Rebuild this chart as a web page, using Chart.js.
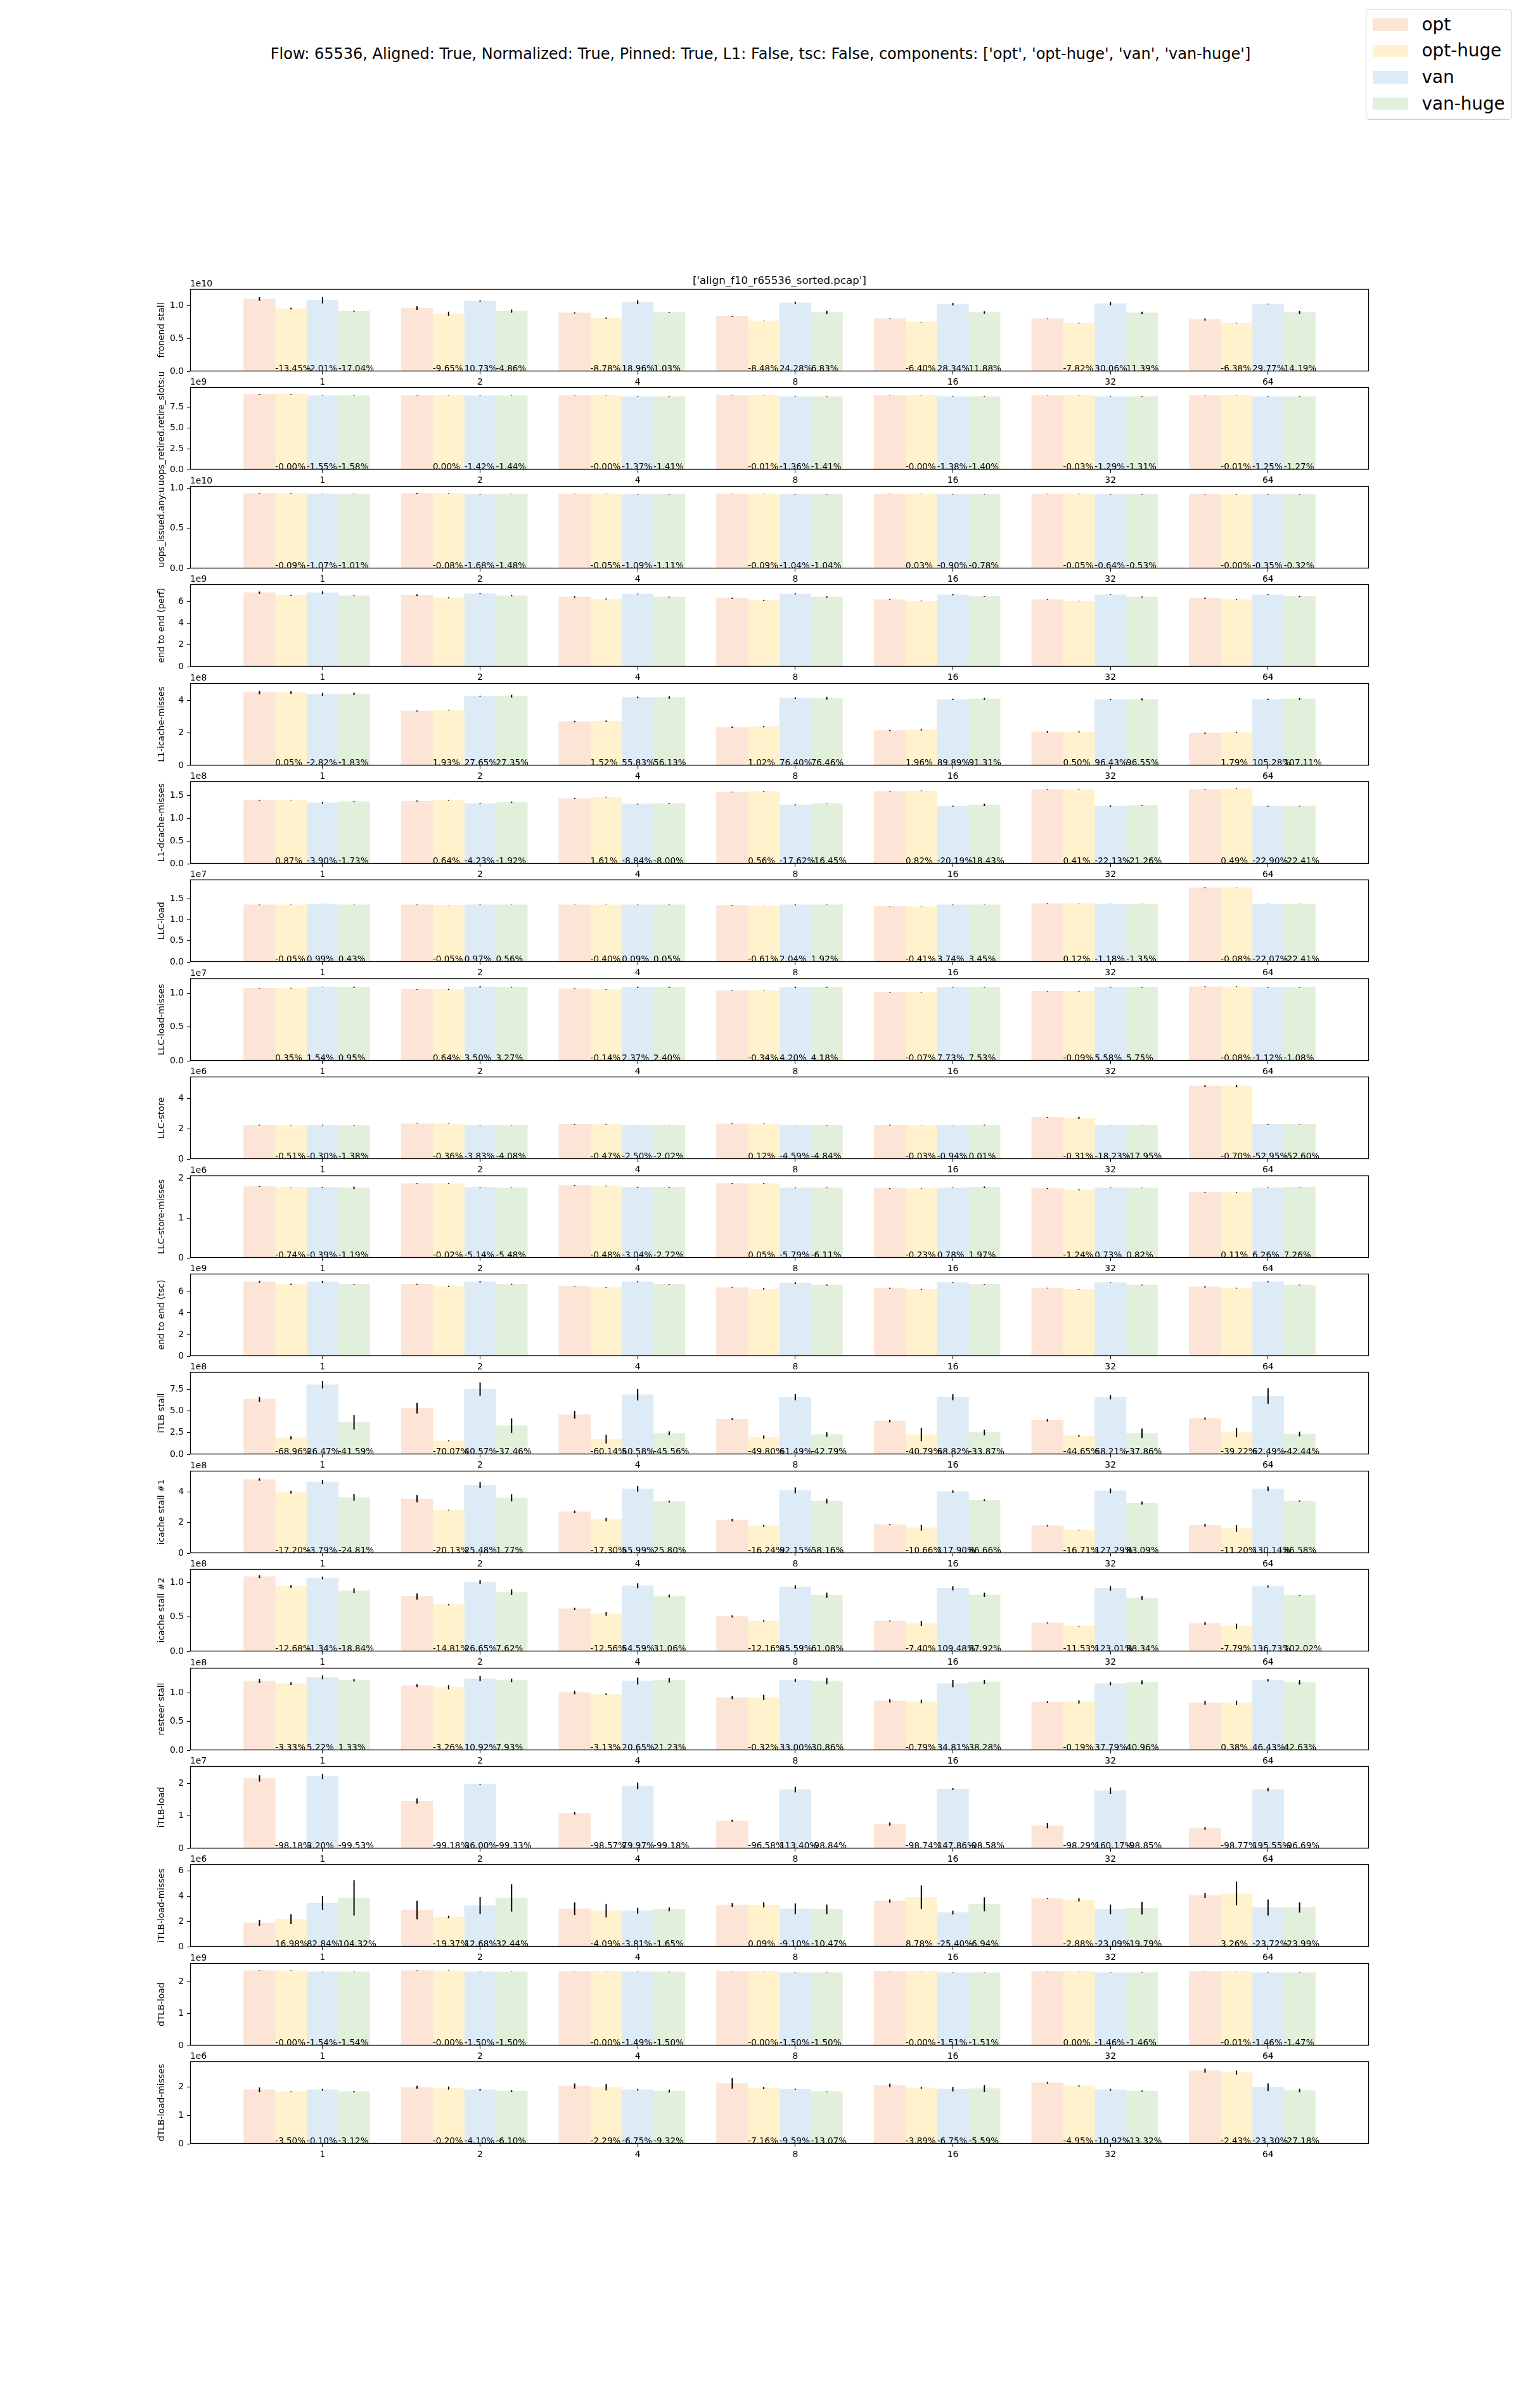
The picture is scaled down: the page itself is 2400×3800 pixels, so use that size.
<!DOCTYPE html>
<html>
<head>
<meta charset="utf-8">
<script src="https://cdn.jsdelivr.net/npm/chart.js@4.4.1/dist/chart.umd.min.js"></script>
<style>
  body { margin: 0; background: #fff; }
  #page { position: relative; width: 2400px; height: 3800px; font-family: "DejaVu Sans", sans-serif; color: #000; }
  #page canvas { position: absolute; left: 0; }
  #suptitle { position: absolute; left: 0; top: 73px; width: 2400px; text-align: center; font-size: 24px; line-height: 1; white-space: nowrap; }
  #legend { position: absolute; left: 2155px; top: 14px; width: 230px; height: 175px; border: 1px solid #cccccc; border-radius: 5px; background: rgba(255,255,255,0.8); padding-top: 3px; box-sizing: border-box; }
  .entry { height: 41.6px; display: flex; align-items: center; font-size: 27.8px; line-height: 1; }
  .swatch { width: 55.6px; height: 19.5px; margin-left: 10px; margin-right: 22px; }
</style>
</head>
<body>
<div id="page">
  <div id="suptitle">Flow: 65536, Aligned: True, Normalized: True, Pinned: True, L1: False, tsc: False, components: ['opt', 'opt-huge', 'van', 'van-huge']</div>
  <div id="legend"></div>
</div>
<script>
const groups = ['1', '2', '4', '8', '16', '32', '64'];
const seriesNames = ['opt', 'opt-huge', 'van', 'van-huge'];
const colors = ['#fce4d6', '#fff2cc', '#ddebf7', '#e2efda'];
const plotTitle = "['align_f10_r65536_sorted.pcap']";

const metricNames = ['fronend stall', 'uops_retired.retire_slots:u', 'uops_issued.any:u', 'end to end (perf)',
  'L1-icache-misses', 'L1-dcache-misses', 'LLC-load', 'LLC-load-misses', 'LLC-store', 'LLC-store-misses',
  'end to end (tsc)', 'iTLB stall', 'icache stall #1', 'icache stall #2', 'resteer stall', 'iTLB-load',
  'iTLB-load-misses', 'dTLB-load', 'dTLB-load-misses'];
const exponents = ['1e10', '1e9', '1e10', '1e9', '1e8', '1e8', '1e7', '1e7', '1e6', '1e6',
  '1e9', '1e8', '1e8', '1e8', '1e8', '1e7', '1e6', '1e9', '1e6'];
const yTickLabels = [
  ['0.0', '0.5', '1.0'], ['0.0', '2.5', '5.0', '7.5'], ['0.0', '0.5', '1.0'], ['0', '2', '4', '6'],
  ['0', '2', '4'], ['0.0', '0.5', '1.0', '1.5'], ['0.0', '0.5', '1.0', '1.5'], ['0.0', '0.5', '1.0'],
  ['0', '2', '4'], ['0', '1', '2'], ['0', '2', '4', '6'], ['0.0', '2.5', '5.0', '7.5'],
  ['0', '2', '4'], ['0.0', '0.5', '1.0'], ['0.0', '0.5', '1.0'], ['0', '1', '2'],
  ['0', '2', '4', '6'], ['0', '1', '2'], ['0', '1', '2']];
const yMax = [1.255, 9.855, 1.026, 7.58, 5.05, 1.816, 1.961, 1.22, 5.44, 2.07,
  7.64, 9.48, 5.38, 1.20, 1.44, 2.54, 6.50, 2.585, 2.91];
const xLimits = [-0.84, 6.64];

// bar heights, in units of the panel's exponent
const optValues = [
  [1.103, 0.964, 0.889, 0.837, 0.802, 0.802, 0.790],
  [8.99, 8.89, 8.89, 8.89, 8.89, 8.89, 8.89],
  [0.935, 0.935, 0.928, 0.928, 0.928, 0.928, 0.922],
  [6.81, 6.57, 6.41, 6.29, 6.17, 6.17, 6.29],
  [4.47, 3.34, 2.69, 2.34, 2.14, 2.06, 1.98],
  [1.399, 1.382, 1.438, 1.579, 1.596, 1.636, 1.636],
  [1.360, 1.360, 1.360, 1.348, 1.318, 1.390, 1.767],
  [1.076, 1.057, 1.068, 1.038, 1.011, 1.030, 1.098],
  [2.24, 2.33, 2.29, 2.33, 2.24, 2.745, 4.82],
  [1.792, 1.867, 1.823, 1.867, 1.741, 1.741, 1.647],
  [6.89, 6.66, 6.47, 6.35, 6.30, 6.30, 6.42],
  [6.33, 5.31, 4.55, 4.06, 3.82, 3.91, 4.11],
  [4.81, 3.56, 2.70, 2.16, 1.87, 1.79, 1.82],
  [1.088, 0.799, 0.619, 0.509, 0.443, 0.414, 0.407],
  [1.209, 1.130, 1.009, 0.922, 0.865, 0.843, 0.830],
  [2.16, 1.46, 1.085, 0.854, 0.754, 0.700, 0.615],
  [1.88, 2.89, 2.99, 3.29, 3.60, 3.80, 4.05],
  [2.352, 2.352, 2.332, 2.332, 2.332, 2.332, 2.332],
  [1.906, 1.996, 2.041, 2.132, 2.064, 2.154, 2.583]
];
const optHugeValues = [
  [0.956, 0.877, 0.810, 0.770, 0.750, 0.734, 0.734],
  [8.99, 8.89, 8.89, 8.89, 8.89, 8.89, 8.89],
  [0.935, 0.935, 0.928, 0.928, 0.928, 0.928, 0.922],
  [6.57, 6.33, 6.22, 6.10, 6.05, 6.05, 6.17],
  [4.47, 3.39, 2.72, 2.375, 2.19, 2.06, 2.03],
  [1.399, 1.399, 1.466, 1.596, 1.607, 1.636, 1.652],
  [1.360, 1.348, 1.360, 1.330, 1.318, 1.390, 1.767],
  [1.076, 1.057, 1.057, 1.038, 1.011, 1.030, 1.098],
  [2.24, 2.33, 2.29, 2.33, 2.24, 2.71, 4.82],
  [1.773, 1.867, 1.804, 1.867, 1.741, 1.710, 1.647],
  [6.66, 6.47, 6.35, 6.23, 6.19, 6.19, 6.30],
  [1.90, 1.55, 1.75, 1.98, 2.28, 2.13, 2.51],
  [3.98, 2.81, 2.20, 1.79, 1.66, 1.50, 1.61],
  [0.945, 0.681, 0.546, 0.443, 0.407, 0.366, 0.366],
  [1.165, 1.100, 0.978, 0.922, 0.852, 0.843, 0.830],
  [0.04, 0.012, 0.015, 0.03, 0.0095, 0.012, 0.0076],
  [2.18, 2.34, 2.84, 3.29, 3.90, 3.70, 4.20],
  [2.352, 2.352, 2.332, 2.332, 2.332, 2.332, 2.332],
  [1.838, 1.966, 1.996, 1.966, 1.974, 2.041, 2.515]
];
const vanValues = [
  [1.083, 1.071, 1.052, 1.044, 1.024, 1.032, 1.024],
  [8.83, 8.83, 8.74, 8.74, 8.74, 8.74, 8.74],
  [0.928, 0.922, 0.922, 0.922, 0.922, 0.922, 0.922],
  [6.81, 6.72, 6.69, 6.69, 6.62, 6.62, 6.62],
  [4.36, 4.25, 4.17, 4.125, 4.05, 4.05, 4.05],
  [1.342, 1.325, 1.314, 1.297, 1.269, 1.269, 1.269],
  [1.378, 1.360, 1.360, 1.360, 1.360, 1.378, 1.378],
  [1.095, 1.095, 1.087, 1.087, 1.087, 1.087, 1.087],
  [2.24, 2.24, 2.24, 2.24, 2.24, 2.24, 2.29],
  [1.773, 1.773, 1.773, 1.760, 1.760, 1.760, 1.760],
  [6.89, 6.89, 6.89, 6.77, 6.82, 6.82, 6.89],
  [8.02, 7.50, 6.86, 6.57, 6.57, 6.57, 6.71],
  [4.65, 4.44, 4.20, 4.10, 4.02, 4.07, 4.20],
  [1.070, 1.011, 0.956, 0.938, 0.919, 0.919, 0.945],
  [1.274, 1.252, 1.209, 1.222, 1.165, 1.165, 1.222],
  [2.22, 1.98, 1.93, 1.815, 1.83, 1.78, 1.815],
  [3.45, 3.24, 2.84, 2.99, 2.69, 2.94, 3.09],
  [2.312, 2.312, 2.312, 2.292, 2.292, 2.292, 2.292],
  [1.906, 1.906, 1.906, 1.928, 1.928, 1.906, 1.996]
];
const vanHugeValues = [
  [0.917, 0.917, 0.897, 0.897, 0.897, 0.889, 0.897],
  [8.83, 8.83, 8.74, 8.74, 8.74, 8.74, 8.74],
  [0.928, 0.928, 0.922, 0.922, 0.922, 0.922, 0.922],
  [6.53, 6.53, 6.41, 6.41, 6.45, 6.41, 6.45],
  [4.39, 4.25, 4.17, 4.125, 4.09, 4.05, 4.09],
  [1.370, 1.354, 1.325, 1.325, 1.297, 1.286, 1.269],
  [1.360, 1.360, 1.360, 1.360, 1.360, 1.378, 1.378],
  [1.087, 1.087, 1.087, 1.087, 1.087, 1.087, 1.087],
  [2.21, 2.24, 2.24, 2.24, 2.24, 2.24, 2.29],
  [1.760, 1.760, 1.773, 1.760, 1.773, 1.760, 1.773],
  [6.66, 6.66, 6.66, 6.59, 6.66, 6.59, 6.59],
  [3.68, 3.30, 2.42, 2.28, 2.51, 2.42, 2.33],
  [3.64, 3.61, 3.37, 3.40, 3.45, 3.27, 3.40],
  [0.883, 0.861, 0.806, 0.817, 0.824, 0.777, 0.817],
  [1.222, 1.222, 1.222, 1.209, 1.196, 1.187, 1.187],
  [0.01, 0.01, 0.009, 0.01, 0.011, 0.008, 0.02],
  [3.85, 3.85, 2.94, 2.94, 3.34, 3.04, 3.09],
  [2.312, 2.312, 2.312, 2.292, 2.292, 2.292, 2.292],
  [1.838, 1.861, 1.861, 1.838, 1.951, 1.861, 1.883]
];

// error bar half lengths
const optErr = [
  [0.028, 0.028, 0.008, 0.006, 0.004, 0.004, 0.016],
  [0.03, 0.03, 0.03, 0.03, 0.03, 0.03, 0.03],
  [0.003, 0.006, 0.003, 0.003, 0.003, 0.003, 0.003],
  [0.10, 0.08, 0.06, 0.05, 0.04, 0.04, 0.06],
  [0.10, 0.03, 0.04, 0.05, 0.04, 0.05, 0.04],
  [0.010, 0.010, 0.012, 0.005, 0.008, 0.008, 0.006],
  [0.005, 0.005, 0.003, 0.008, 0.003, 0.008, 0.008],
  [0.004, 0.004, 0.006, 0.004, 0.004, 0.004, 0.006],
  [0.03, 0.02, 0.02, 0.03, 0.03, 0.02, 0.06],
  [0.008, 0.008, 0.010, 0.010, 0.010, 0.010, 0.008],
  [0.08, 0.05, 0.03, 0.04, 0.05, 0.03, 0.06],
  [0.28, 0.61, 0.44, 0.10, 0.13, 0.15, 0.13],
  [0.08, 0.24, 0.08, 0.08, 0.03, 0.04, 0.09],
  [0.020, 0.046, 0.018, 0.015, 0.005, 0.008, 0.020],
  [0.035, 0.025, 0.028, 0.030, 0.030, 0.015, 0.035],
  [0.10, 0.08, 0.04, 0.03, 0.05, 0.08, 0.04],
  [0.23, 0.73, 0.50, 0.15, 0.13, 0.04, 0.20],
  [0.005, 0.005, 0.005, 0.005, 0.005, 0.005, 0.005],
  [0.08, 0.05, 0.09, 0.19, 0.06, 0.03, 0.07]
];
const optHugeErr = [
  [0.012, 0.032, 0.008, 0.004, 0.004, 0.004, 0.004],
  [0.03, 0.03, 0.03, 0.03, 0.03, 0.03, 0.03],
  [0.003, 0.003, 0.003, 0.003, 0.003, 0.003, 0.003],
  [0.04, 0.05, 0.05, 0.04, 0.03, 0.02, 0.04],
  [0.08, 0.02, 0.04, 0.03, 0.04, 0.03, 0.03],
  [0.005, 0.010, 0.006, 0.010, 0.006, 0.006, 0.006],
  [0.003, 0.003, 0.003, 0.003, 0.003, 0.003, 0.003],
  [0.005, 0.008, 0.004, 0.003, 0.003, 0.004, 0.006],
  [0.02, 0.02, 0.02, 0.02, 0.01, 0.07, 0.08],
  [0.005, 0.010, 0.010, 0.010, 0.006, 0.012, 0.008],
  [0.06, 0.06, 0.04, 0.06, 0.04, 0.03, 0.04],
  [0.19, 0.05, 0.51, 0.19, 0.77, 0.10, 0.55],
  [0.08, 0.02, 0.11, 0.06, 0.19, 0.02, 0.21],
  [0.020, 0.010, 0.026, 0.010, 0.037, 0.003, 0.037],
  [0.025, 0.037, 0.015, 0.046, 0.030, 0.028, 0.037],
  [0.005, 0.003, 0.003, 0.005, 0.003, 0.003, 0.003],
  [0.38, 0.10, 0.53, 0.20, 0.93, 0.13, 0.93],
  [0.005, 0.005, 0.005, 0.005, 0.005, 0.005, 0.005],
  [0.01, 0.055, 0.11, 0.04, 0.03, 0.02, 0.07]
];
const vanErr = [
  [0.048, 0.008, 0.028, 0.016, 0.018, 0.024, 0.004],
  [0.03, 0.03, 0.03, 0.03, 0.03, 0.03, 0.03],
  [0.003, 0.003, 0.003, 0.003, 0.003, 0.003, 0.003],
  [0.12, 0.04, 0.04, 0.05, 0.06, 0.03, 0.04],
  [0.10, 0.03, 0.05, 0.05, 0.04, 0.03, 0.04],
  [0.015, 0.010, 0.008, 0.010, 0.010, 0.015, 0.008],
  [0.005, 0.005, 0.005, 0.008, 0.005, 0.005, 0.005],
  [0.004, 0.010, 0.008, 0.008, 0.004, 0.004, 0.004],
  [0.03, 0.02, 0.01, 0.01, 0.01, 0.01, 0.02],
  [0.010, 0.008, 0.012, 0.010, 0.008, 0.008, 0.008],
  [0.10, 0.05, 0.04, 0.08, 0.04, 0.03, 0.04],
  [0.44, 0.77, 0.66, 0.35, 0.35, 0.25, 0.90],
  [0.13, 0.19, 0.18, 0.19, 0.08, 0.15, 0.15],
  [0.020, 0.030, 0.037, 0.026, 0.030, 0.033, 0.015],
  [0.035, 0.046, 0.060, 0.026, 0.065, 0.030, 0.020],
  [0.08, 0.015, 0.10, 0.085, 0.03, 0.10, 0.05],
  [0.55, 0.66, 0.23, 0.43, 0.15, 0.38, 0.63],
  [0.005, 0.005, 0.005, 0.005, 0.005, 0.005, 0.005],
  [0.03, 0.03, 0.02, 0.02, 0.08, 0.03, 0.14]
];
const vanHugeErr = [
  [0.008, 0.024, 0.006, 0.024, 0.018, 0.020, 0.022],
  [0.03, 0.03, 0.03, 0.03, 0.03, 0.03, 0.03],
  [0.003, 0.003, 0.003, 0.003, 0.003, 0.003, 0.003],
  [0.04, 0.06, 0.03, 0.06, 0.03, 0.04, 0.05],
  [0.08, 0.08, 0.08, 0.08, 0.06, 0.06, 0.06],
  [0.010, 0.015, 0.010, 0.005, 0.025, 0.010, 0.006],
  [0.003, 0.003, 0.005, 0.005, 0.003, 0.005, 0.005],
  [0.008, 0.005, 0.006, 0.006, 0.004, 0.004, 0.004],
  [0.02, 0.02, 0.01, 0.02, 0.03, 0.01, 0.01],
  [0.030, 0.008, 0.010, 0.010, 0.020, 0.006, 0.005],
  [0.04, 0.05, 0.04, 0.05, 0.04, 0.03, 0.03],
  [0.83, 0.83, 0.22, 0.26, 0.33, 0.54, 0.26],
  [0.22, 0.23, 0.06, 0.15, 0.06, 0.10, 0.04],
  [0.035, 0.040, 0.020, 0.037, 0.030, 0.026, 0.005],
  [0.020, 0.030, 0.040, 0.057, 0.035, 0.035, 0.040],
  [0.003, 0.003, 0.003, 0.003, 0.003, 0.003, 0.005],
  [1.39, 1.08, 0.15, 0.38, 0.55, 0.50, 0.40],
  [0.005, 0.005, 0.005, 0.005, 0.005, 0.005, 0.005],
  [0.02, 0.03, 0.05, 0.01, 0.12, 0.02, 0.06]
];

// percentage labels printed at the foot of the opt-huge, van and van-huge bars
const optHugePct = [
  ['-13.45%', '-9.65%', '-8.78%', '-8.48%', '-6.40%', '-7.82%', '-6.38%'],
  ['-0.00%', '0.00%', '-0.00%', '-0.01%', '-0.00%', '-0.03%', '-0.01%'],
  ['-0.09%', '-0.08%', '-0.05%', '-0.09%', '0.03%', '-0.05%', '-0.00%'],
  null,
  ['0.05%', '1.93%', '1.52%', '1.02%', '1.96%', '0.50%', '1.79%'],
  ['0.87%', '0.64%', '1.61%', '0.56%', '0.82%', '0.41%', '0.49%'],
  ['-0.05%', '-0.05%', '-0.40%', '-0.61%', '-0.41%', '0.12%', '-0.08%'],
  ['0.35%', '0.64%', '-0.14%', '-0.34%', '-0.07%', '-0.09%', '-0.08%'],
  ['-0.51%', '-0.36%', '-0.47%', '0.12%', '-0.03%', '-0.31%', '-0.70%'],
  ['-0.74%', '-0.02%', '-0.48%', '0.05%', '-0.23%', '-1.24%', '0.11%'],
  null,
  ['-68.96%', '-70.07%', '-60.14%', '-49.80%', '-40.79%', '-44.65%', '-39.22%'],
  ['-17.20%', '-20.13%', '-17.30%', '-16.24%', '-10.66%', '-16.71%', '-11.20%'],
  ['-12.68%', '-14.81%', '-12.56%', '-12.16%', '-7.40%', '-11.53%', '-7.79%'],
  ['-3.33%', '-3.26%', '-3.13%', '-0.32%', '-0.79%', '-0.19%', '0.38%'],
  ['-98.18%', '-99.18%', '-98.57%', '-96.58%', '-98.74%', '-98.29%', '-98.77%'],
  ['16.98%', '-19.37%', '-4.09%', '0.09%', '8.78%', '-2.88%', '3.26%'],
  ['-0.00%', '-0.00%', '-0.00%', '-0.00%', '-0.00%', '0.00%', '-0.01%'],
  ['-3.50%', '-0.20%', '-2.29%', '-7.16%', '-3.89%', '-4.95%', '-2.43%']
];
const vanPct = [
  ['-2.01%', '10.73%', '18.96%', '24.28%', '28.34%', '30.06%', '29.77%'],
  ['-1.55%', '-1.42%', '-1.37%', '-1.36%', '-1.38%', '-1.29%', '-1.25%'],
  ['-1.07%', '-1.68%', '-1.09%', '-1.04%', '-0.90%', '-0.64%', '-0.35%'],
  null,
  ['-2.82%', '27.65%', '55.83%', '76.40%', '89.89%', '96.43%', '105.28%'],
  ['-3.90%', '-4.23%', '-8.84%', '-17.62%', '-20.19%', '-22.13%', '-22.90%'],
  ['0.99%', '0.97%', '0.09%', '2.04%', '3.74%', '-1.18%', '-22.07%'],
  ['1.54%', '3.50%', '2.37%', '4.20%', '7.73%', '5.58%', '-1.12%'],
  ['-0.30%', '-3.83%', '-2.50%', '-4.59%', '-0.94%', '-18.23%', '-52.95%'],
  ['-0.39%', '-5.14%', '-3.04%', '-5.79%', '0.78%', '0.73%', '6.26%'],
  null,
  ['26.47%', '40.57%', '50.58%', '61.49%', '68.82%', '68.21%', '62.49%'],
  ['-3.79%', '25.48%', '55.99%', '92.15%', '117.90%', '127.29%', '130.14%'],
  ['-1.34%', '26.65%', '54.59%', '85.59%', '109.48%', '123.01%', '136.73%'],
  ['5.22%', '10.92%', '20.65%', '33.00%', '34.81%', '37.79%', '46.43%'],
  ['3.20%', '36.00%', '79.97%', '113.40%', '147.86%', '160.17%', '195.55%'],
  ['82.84%', '12.68%', '-3.81%', '-9.10%', '-25.40%', '-23.09%', '-23.72%'],
  ['-1.54%', '-1.50%', '-1.49%', '-1.50%', '-1.51%', '-1.46%', '-1.46%'],
  ['-0.10%', '-4.10%', '-6.75%', '-9.59%', '-6.75%', '-10.92%', '-23.30%']
];
const vanHugePct = [
  ['-17.04%', '-4.86%', '1.03%', '6.83%', '11.88%', '11.39%', '14.19%'],
  ['-1.58%', '-1.44%', '-1.41%', '-1.41%', '-1.40%', '-1.31%', '-1.27%'],
  ['-1.01%', '-1.48%', '-1.11%', '-1.04%', '-0.78%', '-0.53%', '-0.32%'],
  null,
  ['-1.83%', '27.35%', '56.13%', '76.46%', '91.31%', '96.55%', '107.11%'],
  ['-1.73%', '-1.92%', '-8.00%', '-16.45%', '-18.43%', '-21.26%', '-22.41%'],
  ['0.43%', '0.56%', '0.05%', '1.92%', '3.45%', '-1.35%', '-22.41%'],
  ['0.95%', '3.27%', '2.40%', '4.18%', '7.53%', '5.75%', '-1.08%'],
  ['-1.38%', '-4.08%', '-2.02%', '-4.84%', '0.01%', '-17.95%', '-52.60%'],
  ['-1.19%', '-5.48%', '-2.72%', '-6.11%', '1.97%', '0.82%', '7.26%'],
  null,
  ['-41.59%', '-37.46%', '-45.56%', '-42.79%', '-33.87%', '-37.86%', '-42.44%'],
  ['-24.81%', '1.77%', '25.80%', '58.16%', '86.66%', '83.09%', '86.58%'],
  ['-18.84%', '7.62%', '31.06%', '61.08%', '87.92%', '88.34%', '102.02%'],
  ['1.33%', '7.93%', '21.23%', '30.86%', '38.28%', '40.96%', '42.63%'],
  ['-99.53%', '-99.33%', '-99.18%', '-98.84%', '-98.58%', '-98.85%', '-96.69%'],
  ['104.32%', '32.44%', '-1.65%', '-10.47%', '-6.94%', '-19.79%', '-23.99%'],
  ['-1.54%', '-1.50%', '-1.50%', '-1.50%', '-1.51%', '-1.46%', '-1.47%'],
  ['-3.12%', '-6.10%', '-9.32%', '-13.07%', '-5.59%', '-13.32%', '-27.18%']
];

const seriesValues = [optValues, optHugeValues, vanValues, vanHugeValues];
const seriesErrors = [optErr, optHugeErr, vanErr, vanHugeErr];
const seriesPct = [null, optHugePct, vanPct, vanHugePct];

const FONT = '"DejaVu Sans", sans-serif';
const page = document.getElementById('page');

// legend
const legend = document.getElementById('legend');
seriesNames.forEach((name, s) => {
  const row = document.createElement('div');
  row.className = 'entry';
  const sw = document.createElement('div');
  sw.className = 'swatch';
  sw.style.background = colors[s];
  const txt = document.createElement('span');
  txt.textContent = name;
  row.appendChild(sw);
  row.appendChild(txt);
  legend.appendChild(row);
});

// error bars, percentage labels, box, offset text
const decor = {
  id: 'decor',
  afterDatasetsDraw(chart, args, opts) {
    const k = opts.panel;
    const { ctx } = chart;
    const yScale = chart.scales.y;
    ctx.save();
    ctx.strokeStyle = '#000';
    ctx.lineWidth = 2;
    for (let s = 0; s < seriesNames.length; s++) {
      chart.getDatasetMeta(s).data.forEach((bar, g) => {
        const v = seriesValues[s][k][g], e = seriesErrors[s][k][g];
        ctx.beginPath();
        ctx.moveTo(bar.x, yScale.getPixelForValue(v - e));
        ctx.lineTo(bar.x, yScale.getPixelForValue(v + e));
        ctx.stroke();
      });
    }
    const y0 = yScale.getPixelForValue(0);
    ctx.fillStyle = '#000';
    ctx.font = '13.5px ' + FONT;
    ctx.textAlign = 'left';
    ctx.textBaseline = 'alphabetic';
    for (let s = 1; s < seriesNames.length; s++) {
      const labels = seriesPct[s][k];
      if (!labels) continue;
      chart.getDatasetMeta(s).data.forEach((bar, g) => {
        ctx.fillText(labels[g], bar.x - bar.width / 2, y0);
      });
    }
    ctx.restore();
  },
  afterDraw(chart, args, opts) {
    const k = opts.panel;
    const { ctx, chartArea: a } = chart;
    ctx.save();
    ctx.strokeStyle = '#000';
    ctx.lineWidth = 1.3;
    ctx.strokeRect(Math.round(a.left) + 0.5, Math.round(a.top) + 0.5,
      Math.round(a.right - a.left) - 1, Math.round(a.bottom - a.top) - 1);
    ctx.fillStyle = '#000';
    ctx.font = '13.9px ' + FONT;
    ctx.textAlign = 'left';
    ctx.textBaseline = 'alphabetic';
    ctx.fillText(exponents[k], a.left, a.top - 4);
    if (k === 0) {
      ctx.font = '16.7px ' + FONT;
      ctx.textAlign = 'center';
      ctx.fillText(plotTitle, (a.left + a.right) / 2, a.top - 8);
    }
    ctx.restore();
  }
};

const axesTop0 = 456, axesPitch = 155.4;

metricNames.forEach((metric, k) => {
  const cv = document.createElement('canvas');
  cv.width = 2400;
  cv.height = 250;
  cv.style.top = (Math.round(axesTop0 + k * axesPitch) - 60) + 'px';
  page.appendChild(cv);

  const datasets = seriesNames.map((name, s) => ({
    label: name,
    data: seriesValues[s][k].map((v, g) => ({ x: g, y: v })),
    backgroundColor: colors[s],
    categoryPercentage: 1,
    barPercentage: 1
  }));
  // empty fifth slot: keeps 'van' centred on the tick like the original offsets
  datasets.push({ label: '', data: [], categoryPercentage: 1, barPercentage: 1 });

  const tickFont = { family: FONT, size: 13.9 };
  new Chart(cv, {
    type: 'bar',
    data: { datasets },
    options: {
      responsive: false,
      animation: false,
      devicePixelRatio: 1,
      events: [],
      layout: { padding: { left: 240, right: 240, top: 60, bottom: 30 } },
      plugins: { legend: { display: false }, tooltip: { enabled: false }, decor: { panel: k } },
      scales: {
        x: {
          type: 'linear',
          min: xLimits[0],
          max: xLimits[1],
          offset: false,
          afterBuildTicks: (sc) => { sc.ticks = groups.map((_, g) => ({ value: g })); },
          afterFit: (sc) => { sc.height = 30; },
          ticks: { callback: (v) => groups[v], autoSkip: false, maxRotation: 0, minRotation: 0,
            font: tickFont, color: '#000', padding: 4 },
          grid: { display: true, drawOnChartArea: false, drawTicks: true, tickLength: 5,
            tickColor: '#000', tickWidth: 1.1, offset: false },
          border: { display: false }
        },
        y: {
          type: 'linear',
          min: 0,
          max: yMax[k],
          afterBuildTicks: (sc) => { sc.ticks = yTickLabels[k].map(t => ({ value: Number(t) })); },
          afterFit: (sc) => { sc.width = 60; },
          ticks: { callback: (v, i) => yTickLabels[k][i], font: tickFont, color: '#000', padding: 5 },
          grid: { display: true, drawOnChartArea: false, drawTicks: true, tickLength: 5,
            tickColor: '#000', tickWidth: 1.1 },
          border: { display: false },
          title: { display: true, text: metric, color: '#000', font: { family: FONT, size: 13.9 },
            padding: { top: 7, bottom: 0 } }
        }
      }
    },
    plugins: [decor]
  });
});
</script>
</body>
</html>
